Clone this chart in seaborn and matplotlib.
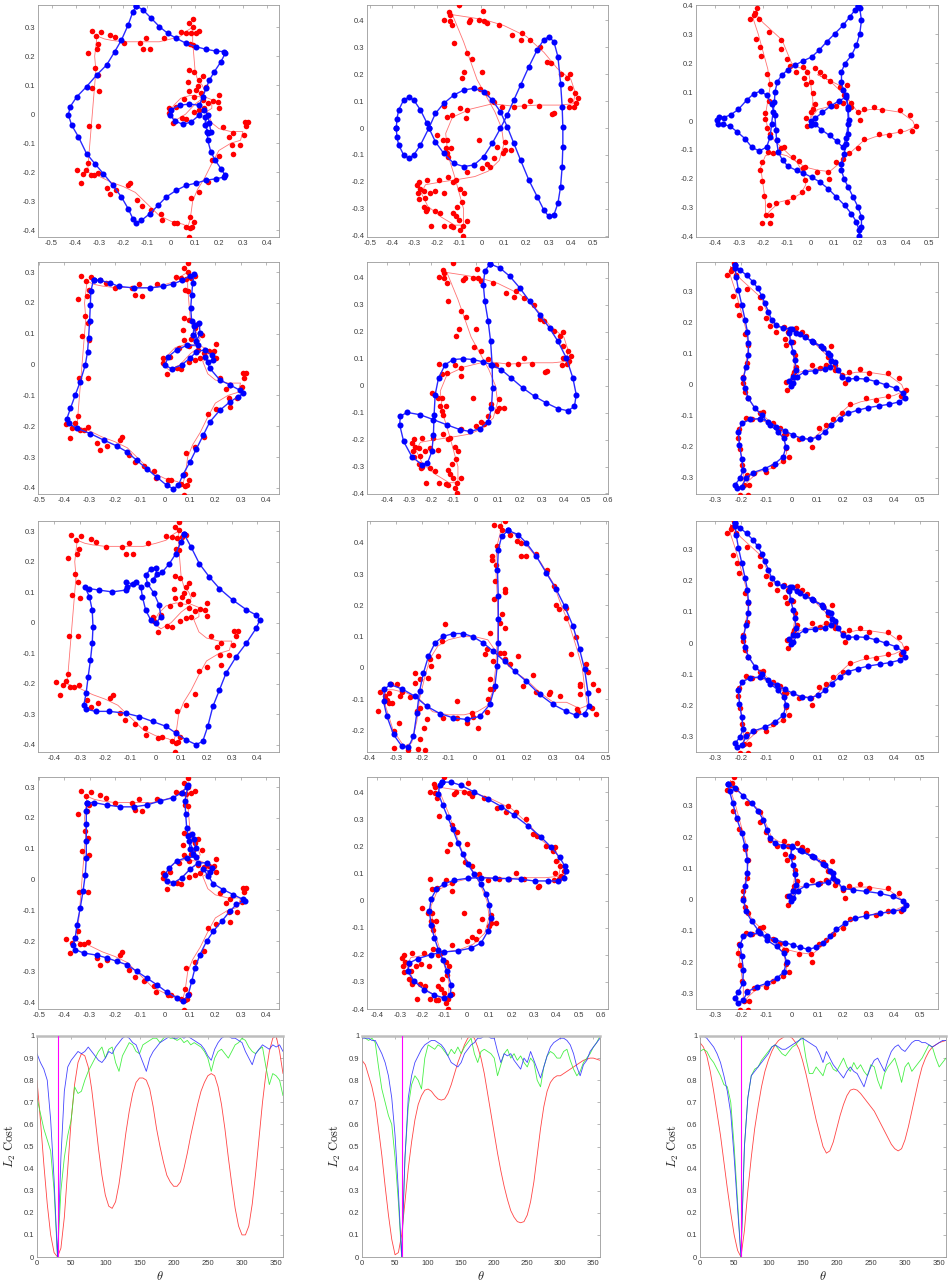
import numpy as np
import matplotlib
matplotlib.use('Agg')
import matplotlib.pyplot as plt
import seaborn as sns
from matplotlib.ticker import FuncFormatter, MultipleLocator

sns.set_theme(style='white')
plt.rcParams['font.family'] = ['Liberation Sans', 'DejaVu Sans']
plt.rcParams['mathtext.fontset'] = 'cm'

# ---------------- column 1 data ----------------
RED1 = [(-0.333,0.287),(-0.295,0.285),(-0.315,0.270),(-0.257,0.275),(-0.236,0.265),(-0.198,0.247),(-0.304,0.241),(-0.312,0.224),(-0.347,0.213),(-0.319,0.158),(-0.308,0.134),(-0.330,0.092),(-0.301,0.081),(-0.343,-0.042),(-0.308,-0.042),(-0.347,-0.168),(-0.356,-0.191),(-0.393,-0.194),(-0.368,-0.205),(-0.377,-0.238),(-0.337,-0.211),(-0.322,-0.211),(-0.305,-0.203),(-0.270,-0.254),(-0.257,-0.277),(-0.229,-0.263),(-0.180,-0.246),(-0.171,-0.236),(-0.143,-0.295),(-0.121,-0.317),(-0.083,-0.330),(-0.044,-0.346),(-0.037,-0.367),(0.010,-0.376),(0.025,-0.375),(0.062,-0.388),(0.079,-0.393),(0.087,-0.390),(0.079,-0.356),(0.083,-0.288),(0.118,-0.269),(0.153,-0.234),(0.074,-0.424),(0.097,-0.373),(0.171,-0.159),(0.201,-0.145),(0.257,-0.138),(0.254,-0.107),(0.287,-0.107),(0.305,-0.073),(0.315,-0.042),(0.323,-0.027),(0.308,-0.027),(0.257,-0.065),(0.243,-0.078),(0.218,-0.044),(0.201,0.023),(0.194,0.043),(0.201,0.066),(0.173,0.045),(0.153,0.039),(0.132,0.048),(0.125,0.072),(0.104,0.083),(0.097,0.060),(0.076,0.081),(0.055,0.054),(0.021,0.025),(-0.010,0.020),(-0.007,0.005),(0.007,-0.030),(0.046,-0.012),(0.062,-0.015),(0.097,0.007),(0.118,0.014),(0.139,0.020),(0.072,0.112),(0.076,0.152),(0.097,0.146),(0.118,0.118),(0.132,0.131),(0.146,0.095),(0.111,0.097),(0.090,0.239),(0.080,0.241),(0.083,0.279),(0.090,0.302),(0.076,0.314),(0.090,0.329),(0.104,0.281),(0.118,0.287),(0.042,0.285),(0.062,0.281),(-0.104,0.262),(-0.118,0.225),(-0.090,0.224),(-0.132,0.247),(-0.031,0.262)]

RPATH1 = [(-0.31,0.27),(-0.28,0.26),(-0.25,0.255),(-0.2,0.25),(-0.15,0.25),(-0.1,0.25),(-0.05,0.25),(0.0,0.26),(0.04,0.27),(0.07,0.29),(0.09,0.3),(0.09,0.25),(0.095,0.2),(0.1,0.15),(0.11,0.12),(0.13,0.1),(0.14,0.08),(0.12,0.06),(0.08,0.065),(0.04,0.055),(0.01,0.03),(-0.01,0.0),(0.02,-0.02),(0.06,0.0),(0.1,0.035),(0.14,0.06),(0.17,0.05),(0.17,0.02),(0.15,0.01),(0.17,-0.03),(0.2,-0.05),(0.25,-0.06),(0.3,-0.06),(0.29,-0.09),(0.25,-0.1),(0.2,-0.125),(0.17,-0.17),(0.14,-0.22),(0.11,-0.26),(0.09,-0.3),(0.08,-0.36),(0.07,-0.39),(0.05,-0.38),(0.0,-0.37),(-0.05,-0.35),(-0.1,-0.31),(-0.15,-0.27),(-0.2,-0.25),(-0.25,-0.235),(-0.3,-0.215),(-0.35,-0.2),(-0.345,-0.15),(-0.335,-0.05),(-0.325,0.05),(-0.315,0.15),(-0.32,0.2),(-0.31,0.27)]

BLUE1_R1 = [(-0.146,0.374),(-0.118,0.360),(-0.083,0.331),(-0.049,0.302),(-0.014,0.279),(0.021,0.262),(0.062,0.245),(0.104,0.233),(0.146,0.224),(0.187,0.218),(0.222,0.216),(0.226,0.210),(0.208,0.181),(0.180,0.146),(0.160,0.118),(0.146,0.089),(0.132,0.060),(0.118,0.031),(0.076,0.035),(0.035,0.031),(0.000,0.016),(-0.004,-0.003),(0.014,-0.023),(0.049,-0.035),(0.083,-0.027),(0.118,-0.003),(0.139,0.014),(0.153,-0.003),(0.160,-0.032),(0.166,-0.061),(0.153,-0.065),(0.143,-0.038),(0.143,-0.009),(0.150,-0.060),(0.153,-0.090),(0.166,-0.130),(0.184,-0.159),(0.208,-0.188),(0.226,-0.211),(0.222,-0.217),(0.187,-0.223),(0.146,-0.228),(0.104,-0.238),(0.062,-0.246),(0.021,-0.263),(-0.021,-0.286),(-0.055,-0.315),(-0.090,-0.344),(-0.125,-0.367),(-0.146,-0.375),(-0.160,-0.361),(-0.180,-0.326),(-0.208,-0.286),(-0.243,-0.246),(-0.284,-0.205),(-0.319,-0.171),(-0.354,-0.136),(-0.388,-0.078),(-0.416,-0.038),(-0.430,-0.003),(-0.423,0.025),(-0.395,0.060),(-0.354,0.095),(-0.312,0.135),(-0.270,0.170),(-0.236,0.216),(-0.208,0.256),(-0.180,0.308),(-0.160,0.354)]

BLUE1_R2 = [(-0.284,0.276),(-0.258,0.273),(-0.218,0.265),(-0.185,0.254),(-0.125,0.249),(-0.059,0.249),(-0.007,0.254),(0.033,0.262),(0.066,0.273),(0.099,0.287),(0.115,0.294),(0.110,0.265),(0.106,0.227),(0.102,0.183),(0.106,0.140),(0.119,0.129),(0.136,0.135),(0.139,0.102),(0.125,0.075),(0.112,0.097),(0.115,0.125),(0.132,0.064),(0.086,0.062),(0.046,0.048),(0.013,0.026),(0.000,-0.001),(0.026,-0.014),(0.066,-0.001),(0.099,0.021),(0.125,0.042),(0.159,0.048),(0.185,0.031),(0.192,0.015),(0.172,0.010),(0.159,0.026),(0.178,-0.012),(0.218,-0.050),(0.258,-0.066),(0.297,-0.083),(0.310,-0.093),(0.291,-0.104),(0.258,-0.121),(0.218,-0.148),(0.178,-0.186),(0.152,-0.229),(0.125,-0.273),(0.099,-0.316),(0.070,-0.359),(0.053,-0.392),(0.033,-0.403),(0.007,-0.392),(-0.033,-0.365),(-0.073,-0.338),(-0.112,-0.311),(-0.152,-0.283),(-0.192,-0.264),(-0.244,-0.245),(-0.297,-0.224),(-0.350,-0.207),(-0.383,-0.191),(-0.390,-0.175),(-0.376,-0.142),(-0.357,-0.099),(-0.337,-0.055),(-0.317,-0.001),(-0.308,0.042),(-0.304,0.086),(-0.300,0.140),(-0.297,0.194),(-0.295,0.238)]

BLUE1_R3 = [(0.112,0.289),(0.139,0.248),(0.172,0.193),(0.211,0.150),(0.251,0.112),(0.304,0.074),(0.357,0.043),(0.396,0.025),(0.410,0.009),(0.396,-0.018),(0.357,-0.067),(0.317,-0.111),(0.277,-0.165),(0.251,-0.220),(0.225,-0.274),(0.205,-0.339),(0.185,-0.388),(0.159,-0.399),(0.119,-0.383),(0.079,-0.361),(0.040,-0.339),(-0.013,-0.323),(-0.066,-0.307),(-0.119,-0.296),(-0.185,-0.290),(-0.238,-0.290),(-0.275,-0.283),(-0.284,-0.268),(-0.275,-0.230),(-0.267,-0.176),(-0.258,-0.122),(-0.251,-0.067),(-0.248,-0.013),(-0.251,0.041),(-0.262,0.085),(-0.280,0.117),(-0.264,0.112),(-0.225,0.107),(-0.172,0.101),(-0.119,0.107),(-0.092,0.126),(-0.119,0.134),(-0.112,0.118),(-0.079,0.134),(-0.059,0.117),(-0.053,0.085),(-0.040,0.041),(-0.020,0.009),(0.000,-0.002),(0.020,0.020),(0.013,0.058),(-0.007,0.096),(-0.033,0.128),(-0.040,0.155),(-0.020,0.177),(0.000,0.180),(0.003,0.161),(-0.013,0.139),(0.026,0.166),(0.053,0.193),(0.079,0.226),(0.099,0.264)]

BLUE1_R4 = [(-0.310,0.250),(-0.284,0.250),(-0.231,0.242),(-0.178,0.236),(-0.125,0.236),(-0.073,0.242),(-0.020,0.255),(0.033,0.266),(0.066,0.282),(0.086,0.299),(0.092,0.307),(0.079,0.255),(0.082,0.212),(0.086,0.168),(0.092,0.141),(0.106,0.147),(0.116,0.130),(0.123,0.103),(0.112,0.084),(0.099,0.098),(0.096,0.125),(0.125,0.073),(0.086,0.071),(0.046,0.060),(0.017,0.038),(0.000,0.016),(0.007,-0.005),(0.033,-0.011),(0.066,0.005),(0.099,0.033),(0.132,0.054),(0.165,0.054),(0.185,0.038),(0.178,0.025),(0.152,0.033),(0.172,0.011),(0.192,-0.014),(0.231,-0.033),(0.271,-0.049),(0.310,-0.065),(0.317,-0.071),(0.284,-0.081),(0.258,-0.103),(0.225,-0.136),(0.192,-0.168),(0.165,-0.201),(0.139,-0.244),(0.119,-0.288),(0.106,-0.331),(0.092,-0.375),(0.073,-0.396),(0.046,-0.385),(0.007,-0.366),(-0.033,-0.342),(-0.073,-0.320),(-0.112,-0.299),(-0.152,-0.277),(-0.192,-0.266),(-0.231,-0.255),(-0.271,-0.246),(-0.324,-0.239),(-0.357,-0.228),(-0.366,-0.212),(-0.357,-0.190),(-0.350,-0.147),(-0.337,-0.092),(-0.326,-0.038),(-0.317,0.016),(-0.313,0.071),(-0.313,0.125),(-0.313,0.179),(-0.313,0.223)]

# ---------------- column 2 data ----------------
RED2 = [(-0.101,0.456),(-0.146,0.431),(-0.141,0.419),(-0.166,0.402),(-0.141,0.398),(-0.131,0.381),(-0.057,0.394),(-0.050,0.400),(-0.012,0.400),(0.006,0.433),(0.010,0.398),(0.025,0.388),(0.078,0.381),(0.137,0.344),(0.182,0.351),(0.175,0.328),(0.219,0.326),(0.264,0.301),(0.294,0.246),(0.312,0.240),(0.354,0.202),(0.396,0.200),(0.384,0.184),(0.397,0.147),(0.418,0.128),(0.433,0.110),(0.422,0.091),(0.396,0.104),(0.391,0.077),(0.413,0.079),(0.324,0.054),(0.316,0.052),(0.257,0.081),(0.219,0.101),(0.190,0.081),(0.145,0.079),(0.093,0.077),(0.055,0.098),(0.025,0.128),(-0.007,0.143),(-0.064,0.067),(-0.067,0.036),(-0.094,0.075),(-0.131,0.048),(-0.154,0.042),(-0.166,0.081),(-0.199,-0.026),(-0.172,-0.044),(-0.154,-0.044),(-0.160,-0.075),(-0.136,-0.075),(-0.154,-0.094),(-0.149,-0.107),(-0.064,-0.162),(0.003,-0.149),(0.025,-0.135),(0.040,-0.143),(0.055,-0.112),(0.097,-0.094),(0.107,-0.081),(0.107,-0.051),(0.130,-0.081),(-0.087,0.184),(-0.076,0.209),(-0.042,0.254),(-0.064,0.279),(0.003,0.209),(-0.124,0.314),(-0.012,-0.044),(0.070,-0.069),(-0.281,-0.199),(-0.288,-0.211),(-0.276,-0.227),(-0.258,-0.232),(-0.284,-0.242),(-0.281,-0.264),(-0.243,-0.193),(-0.228,-0.242),(-0.251,-0.260),(-0.258,-0.291),(-0.243,-0.300),(-0.247,-0.306),(-0.206,-0.233),(-0.191,-0.193),(-0.169,-0.240),(-0.207,-0.306),(-0.185,-0.316),(-0.224,-0.363),(-0.166,-0.363),(-0.127,-0.368),(-0.136,-0.365),(-0.116,-0.326),(-0.127,-0.314),(-0.109,-0.291),(-0.087,-0.273),(-0.079,-0.242),(-0.094,-0.227),(-0.116,-0.193),(-0.127,-0.199),(-0.149,-0.180),(-0.101,-0.341),(-0.082,-0.363),(-0.082,-0.400),(-0.064,-0.343),(-0.094,-0.378)]

RPATH2 = [(-0.13,0.42),(-0.05,0.41),(0.02,0.40),(0.1,0.38),(0.2,0.34),(0.28,0.28),(0.34,0.22),(0.4,0.18),(0.42,0.13),(0.41,0.09),(0.35,0.085),(0.25,0.085),(0.15,0.08),(0.05,0.09),(-0.05,0.07),(-0.13,0.04),(-0.16,-0.02),(-0.15,-0.1),(-0.12,-0.18),(-0.1,-0.24),(-0.08,-0.3),(-0.08,-0.36),(-0.12,-0.36),(-0.18,-0.33),(-0.24,-0.29),(-0.27,-0.24),(-0.25,-0.21),(-0.18,-0.2),(-0.1,-0.19),(-0.03,-0.18),(0.03,-0.16),(0.08,-0.12),(0.1,-0.06),(0.09,0.0),(0.06,0.06),(0.02,0.12),(-0.02,0.18),(-0.05,0.25),(-0.08,0.32),(-0.11,0.38),(-0.13,0.42)]

RED2B = [(0.073,0.458),(0.096,0.455),(0.115,0.469),(0.103,0.440),(0.084,0.391),(0.068,0.359),(0.068,0.346),(0.081,0.330),(0.077,0.277),(0.115,0.253),(0.115,0.242),(0.073,0.219),(0.103,0.171),(0.096,0.144),(0.115,0.128),(0.058,0.112),(0.046,0.059),(0.096,0.048),(0.112,0.048),(0.071,0.021),(0.166,0.037),(0.115,0.027),(0.134,0.011),(0.223,-0.023),(0.234,-0.078),(0.185,-0.059),(0.286,-0.078),(0.283,-0.085),(0.324,-0.091),(0.391,-0.131),(0.394,-0.142),(0.403,-0.057),(0.425,0.011),(0.432,-0.014),(0.400,-0.053),(0.403,-0.085),(0.451,-0.053),(0.470,-0.071),(0.448,-0.128),(0.461,-0.149),(0.368,0.043),(0.385,0.099),(0.347,0.160),(0.349,0.192),(0.322,0.188),(0.309,0.202),(0.301,0.261),(0.276,0.312),(0.233,0.365),(0.175,0.359),(0.197,0.359),(0.175,0.400),(0.134,0.426),(0.160,0.405),(-0.113,0.141),(-0.125,0.085),(-0.138,0.039),(-0.170,0.027),(-0.208,-0.035),(-0.227,-0.016),(-0.166,0.007),(-0.176,-0.032),(0.039,0.043),(0.058,-0.069),(0.071,-0.069),(0.052,-0.101),(0.058,-0.037),(-0.066,-0.107),(-0.119,-0.160),(-0.068,-0.160),(-0.030,-0.176),(-0.011,-0.144),(-0.008,-0.157),(0.014,-0.192),(0.046,-0.142),(-0.370,-0.139),(-0.361,-0.078),(-0.341,-0.091),(-0.335,-0.103),(-0.328,-0.080),(-0.315,-0.112),(-0.319,-0.053),(-0.296,-0.053),(-0.277,-0.078),(-0.290,-0.176),(-0.309,-0.203),(-0.306,-0.256),(-0.252,-0.262),(-0.214,-0.261),(-0.189,-0.263),(-0.208,-0.229),(-0.182,-0.165),(-0.192,-0.192),(-0.220,-0.139),(-0.210,-0.128),(-0.227,-0.048),(-0.248,-0.093),(-0.284,-0.091),(-0.327,-0.112)]

RPATH2B = [(0.1,0.44),(0.15,0.43),(0.2,0.39),(0.25,0.34),(0.3,0.27),(0.33,0.2),(0.36,0.14),(0.39,0.06),(0.41,0.0),(0.42,-0.07),(0.43,-0.12),(0.4,-0.13),(0.35,-0.11),(0.3,-0.11),(0.25,-0.08),(0.2,-0.04),(0.15,-0.01),(0.1,0.03),(0.05,0.09),(0.0,0.1),(-0.05,0.1),(-0.1,0.09),(-0.14,0.07),(-0.17,0.03),(-0.19,-0.03),(-0.21,-0.1),(-0.22,-0.17),(-0.24,-0.24),(-0.27,-0.25),(-0.31,-0.2),(-0.34,-0.12),(-0.34,-0.07),(-0.31,-0.07),(-0.26,-0.08),(-0.21,-0.1),(-0.16,-0.14),(-0.1,-0.15),(-0.04,-0.15),(0.01,-0.14),(0.05,-0.12),(0.07,-0.07),(0.08,0.0),(0.085,0.07),(0.09,0.15),(0.085,0.25),(0.08,0.33),(0.085,0.39),(0.1,0.44)]

BLUE2_R1 = [(-0.381,-0.001),(-0.378,0.035),(-0.370,0.067),(-0.348,0.104),(-0.325,0.114),(-0.303,0.104),(-0.273,0.067),(-0.243,0.017),(-0.235,0.0),(-0.206,0.054),(-0.169,0.091),(-0.124,0.122),(-0.079,0.141),(-0.034,0.147),(0.010,0.135),(0.048,0.104),(0.085,0.060),(0.115,0.005),(0.145,-0.057),(0.175,-0.119),(0.212,-0.193),(0.249,-0.254),(0.279,-0.304),(0.301,-0.328),(0.324,-0.322),(0.342,-0.279),(0.354,-0.217),(0.361,-0.143),(0.364,-0.069),(0.364,0.005),(0.361,0.079),(0.354,0.165),(0.342,0.264),(0.324,0.320),(0.301,0.338),(0.279,0.328),(0.249,0.289),(0.212,0.227),(0.175,0.159),(0.145,0.104),(0.115,0.048),(0.085,-0.001),(0.048,-0.057),(0.010,-0.106),(-0.034,-0.137),(-0.079,-0.143),(-0.124,-0.131),(-0.169,-0.094),(-0.206,-0.051),(-0.235,0.0),(-0.273,-0.063),(-0.303,-0.100),(-0.325,-0.112),(-0.348,-0.100),(-0.370,-0.063),(-0.378,-0.035)]

BLUE2_R2 = [(0.065,0.452),(0.110,0.437),(0.155,0.406),(0.200,0.363),(0.245,0.313),(0.290,0.264),(0.335,0.214),(0.373,0.165),(0.411,0.103),(0.441,0.028),(0.456,-0.033),(0.448,-0.077),(0.418,-0.093),(0.373,-0.085),(0.320,-0.064),(0.268,-0.040),(0.215,-0.009),(0.162,0.028),(0.117,0.059),(0.072,0.078),(0.035,0.088),(-0.011,0.097),(-0.056,0.100),(-0.101,0.097),(-0.138,0.078),(-0.168,0.028),(-0.183,-0.033),(-0.188,-0.108),(-0.191,-0.182),(-0.198,-0.244),(-0.218,-0.287),(-0.244,-0.293),(-0.289,-0.263),(-0.326,-0.207),(-0.344,-0.145),(-0.341,-0.114),(-0.311,-0.099),(-0.251,-0.108),(-0.191,-0.126),(-0.131,-0.145),(-0.071,-0.163),(-0.026,-0.170),(0.020,-0.160),(0.057,-0.133),(0.072,-0.083),(0.077,-0.009),(0.075,0.078),(0.068,0.165),(0.057,0.239),(0.042,0.313),(0.035,0.375),(0.042,0.425)]

BLUE2_R3 = [(0.128,0.440),(0.166,0.426),(0.197,0.400),(0.235,0.357),(0.273,0.304),(0.311,0.251),(0.343,0.197),(0.375,0.133),(0.400,0.059),(0.419,-0.005),(0.432,-0.080),(0.435,-0.123),(0.419,-0.146),(0.387,-0.152),(0.349,-0.139),(0.299,-0.117),(0.248,-0.085),(0.197,-0.043),(0.153,-0.011),(0.115,0.021),(0.071,0.053),(0.033,0.080),(-0.005,0.099),(-0.043,0.110),(-0.081,0.110),(-0.119,0.101),(-0.151,0.080),(-0.176,0.037),(-0.195,-0.016),(-0.210,-0.075),(-0.220,-0.144),(-0.233,-0.219),(-0.252,-0.253),(-0.277,-0.251),(-0.309,-0.213),(-0.334,-0.155),(-0.347,-0.107),(-0.344,-0.069),(-0.322,-0.053),(-0.277,-0.067),(-0.227,-0.091),(-0.182,-0.123),(-0.132,-0.146),(-0.081,-0.160),(-0.030,-0.165),(0.020,-0.155),(0.058,-0.117),(0.077,-0.059),(0.086,0.005),(0.090,0.080),(0.090,0.155),(0.090,0.229),(0.087,0.314),(0.090,0.378),(0.103,0.421)]

BLUE2_R4 = [(-0.112,0.438),(-0.070,0.438),(-0.025,0.426),(0.034,0.401),(0.094,0.376),(0.154,0.348),(0.213,0.315),(0.273,0.277),(0.333,0.234),(0.378,0.197),(0.415,0.160),(0.437,0.129),(0.445,0.110),(0.434,0.085),(0.407,0.073),(0.363,0.073),(0.303,0.073),(0.243,0.079),(0.184,0.082),(0.124,0.083),(0.064,0.085),(0.004,0.083),(-0.055,0.076),(-0.100,0.063),(-0.137,0.042),(-0.160,0.005),(-0.167,-0.038),(-0.160,-0.088),(-0.145,-0.137),(-0.127,-0.181),(-0.107,-0.218),(-0.088,-0.261),(-0.070,-0.311),(-0.073,-0.348),(-0.100,-0.360),(-0.145,-0.348),(-0.190,-0.329),(-0.234,-0.298),(-0.264,-0.261),(-0.257,-0.230),(-0.219,-0.214),(-0.160,-0.199),(-0.100,-0.189),(-0.040,-0.185),(0.019,-0.175),(0.064,-0.156),(0.094,-0.113),(0.106,-0.063),(0.101,-0.014),(0.087,0.024),(0.064,0.061),(0.034,0.098),(0.004,0.135),(-0.018,0.172),(-0.040,0.215),(-0.063,0.265),(-0.085,0.308),(-0.107,0.352),(-0.127,0.395),(-0.122,0.426)]

# ---------------- column 3 data ----------------
RED3 = [(-0.255,0.352),(-0.235,0.373),(-0.226,0.391),(-0.237,0.365),(-0.218,0.354),(-0.174,0.309),(-0.231,0.284),(-0.213,0.257),(-0.207,0.225),(-0.183,0.162),(-0.170,0.128),(-0.174,0.069),(-0.192,0.026),(-0.190,0.006),(-0.183,-0.023),(-0.170,-0.044),(-0.125,0.281),(-0.125,0.248),(-0.101,0.216),(-0.086,0.190),(-0.060,0.171),(-0.031,0.187),(-0.014,0.171),(-0.027,0.147),(0.003,0.136),(-0.021,0.128),(0.012,0.096),(0.018,0.058),(0.009,0.042),(0.003,0.031),(-0.021,0.010),(-0.017,-0.017),(0.077,0.063),(0.109,0.053),(0.135,0.063),(0.155,0.123),(0.142,0.090),(0.168,0.063),(0.122,0.119),(0.083,0.137),(0.057,0.157),(0.038,0.169),(0.018,0.182),(0.168,0.047),(0.198,0.031),(0.207,0.004),(0.224,0.042),(0.265,0.049),(0.302,0.037),(0.376,0.037),(0.419,0.020),(0.445,-0.017),(0.427,-0.035),(0.376,-0.035),(0.330,-0.049),(0.289,-0.044),(0.226,-0.063),(0.198,-0.092),(0.161,-0.109),(0.135,-0.130),(0.107,-0.141),(0.073,-0.175),(0.077,-0.200),(0.029,-0.175),(-0.023,-0.160),(-0.047,-0.139),(-0.073,-0.125),(-0.112,-0.089),(-0.125,-0.092),(-0.157,-0.111),(-0.179,-0.106),(-0.205,-0.143),(-0.212,-0.171),(-0.203,-0.208),(-0.196,-0.259),(-0.174,-0.291),(-0.187,-0.324),(-0.203,-0.354),(-0.170,-0.354),(-0.166,-0.324),(-0.147,-0.283),(-0.101,-0.281),(-0.073,-0.261),(-0.034,-0.246),(-0.010,-0.232),(-0.023,-0.205),(-0.031,-0.162)]

RPATH3 = [(-0.24,0.38),(-0.2,0.34),(-0.16,0.31),(-0.12,0.28),(-0.1,0.24),(-0.08,0.2),(-0.05,0.185),(-0.01,0.175),(0.0,0.13),(0.01,0.07),(0.0,0.01),(0.03,0.04),(0.08,0.05),(0.13,0.06),(0.16,0.07),(0.13,0.1),(0.08,0.14),(0.03,0.16),(0.08,0.14),(0.13,0.12),(0.15,0.09),(0.17,0.06),(0.2,0.03),(0.25,0.04),(0.3,0.04),(0.38,0.03),(0.43,0.0),(0.44,-0.02),(0.4,-0.035),(0.33,-0.045),(0.27,-0.055),(0.22,-0.07),(0.18,-0.1),(0.13,-0.14),(0.08,-0.175),(0.03,-0.17),(-0.02,-0.16),(-0.06,-0.14),(-0.1,-0.12),(-0.15,-0.11),(-0.19,-0.12),(-0.21,-0.16),(-0.2,-0.22),(-0.19,-0.28),(-0.19,-0.33),(-0.17,-0.31),(-0.13,-0.28),(-0.08,-0.27),(-0.04,-0.25),(-0.02,-0.22),(-0.03,-0.18),(-0.06,-0.14),(-0.11,-0.1),(-0.15,-0.07),(-0.18,-0.03),(-0.19,0.02),(-0.18,0.07),(-0.17,0.12),(-0.18,0.18),(-0.2,0.24),(-0.22,0.3),(-0.24,0.35),(-0.24,0.38)]

BLUE3_R1 = [(0.200,0.397),(0.186,0.383),(0.165,0.360),(0.137,0.331),(0.102,0.302),(0.067,0.273),(0.036,0.245),(0.004,0.221),(-0.031,0.208),(-0.066,0.193),(-0.094,0.178),(-0.122,0.158),(-0.140,0.135),(-0.150,0.100),(-0.152,0.065),(-0.158,0.030),(-0.164,-0.010),(-0.170,-0.055),(-0.185,-0.090),(-0.216,-0.104),(-0.248,-0.090),(-0.276,-0.061),(-0.308,-0.038),(-0.339,-0.018),(-0.367,-0.012),(-0.388,-0.012),(-0.395,0.002),(-0.385,0.014),(-0.365,0.012),(-0.335,0.022),(-0.304,0.040),(-0.269,0.072),(-0.238,0.095),(-0.210,0.103),(-0.185,0.089),(-0.164,0.060),(-0.150,0.020),(-0.146,-0.030),(-0.143,-0.067),(-0.136,-0.107),(-0.118,-0.136),(-0.094,-0.157),(-0.059,-0.171),(-0.031,-0.180),(0.004,-0.194),(0.039,-0.211),(0.074,-0.234),(0.109,-0.263),(0.144,-0.292),(0.172,-0.321),(0.193,-0.349),(0.204,-0.378),(0.204,-0.396),(0.214,-0.367),(0.214,-0.332),(0.200,-0.298),(0.179,-0.263),(0.158,-0.228),(0.141,-0.200),(0.130,-0.171),(0.130,-0.148),(0.141,-0.113),(0.151,-0.078),(0.158,-0.044),(0.161,0.002),(0.158,0.048),(0.151,0.083),(0.120,0.070),(0.085,0.052),(0.050,0.030),(0.020,0.010),(0.000,0.000),(0.003,-0.015),(0.020,-0.012),(0.045,-0.030),(0.080,-0.050),(0.110,-0.070),(0.135,-0.090),(0.150,-0.060),(0.158,-0.010),(0.158,0.040),(0.150,0.090),(0.137,0.106),(0.130,0.135),(0.130,0.170),(0.144,0.198),(0.172,0.227),(0.193,0.262),(0.207,0.302),(0.214,0.348),(0.207,0.389)]

BLUE3_R2 = [(-0.222,0.384),(-0.203,0.370),(-0.177,0.352),(-0.153,0.332),(-0.134,0.311),(-0.118,0.287),(-0.105,0.262),(-0.092,0.235),(-0.079,0.209),(-0.060,0.192),(-0.034,0.182),(-0.008,0.180),(0.018,0.166),(0.051,0.152),(0.083,0.137),(0.116,0.123),(0.142,0.101),(0.155,0.076),(0.151,0.058),(0.129,0.049),(0.090,0.045),(0.051,0.042),(0.021,0.026),(0.005,0.004),(-0.005,-0.003),(-0.010,0.012),(0.003,0.026),(0.016,0.047),(0.012,0.080),(0.005,0.106),(-0.005,0.137),(-0.010,0.166),(-0.001,0.180),(0.031,0.162),(0.077,0.141),(0.122,0.117),(0.151,0.095),(0.168,0.072),(0.181,0.047),(0.198,0.026),(0.220,0.018),(0.252,0.020),(0.291,0.018),(0.330,0.010),(0.369,-0.001),(0.408,-0.012),(0.434,-0.028),(0.441,-0.044),(0.421,-0.055),(0.382,-0.063),(0.343,-0.068),(0.298,-0.074),(0.259,-0.082),(0.220,-0.092),(0.187,-0.109),(0.155,-0.130),(0.129,-0.152),(0.103,-0.168),(0.070,-0.176),(0.038,-0.173),(0.005,-0.162),(-0.027,-0.149),(-0.060,-0.135),(-0.092,-0.119),(-0.125,-0.109),(-0.164,-0.112),(-0.196,-0.125),(-0.209,-0.152),(-0.205,-0.195),(-0.196,-0.238),(-0.190,-0.275),(-0.203,-0.302),(-0.222,-0.322),(-0.213,-0.334),(-0.196,-0.329),(-0.179,-0.300),(-0.151,-0.283),(-0.105,-0.270),(-0.066,-0.254),(-0.034,-0.232),(-0.023,-0.200),(-0.031,-0.173),(-0.053,-0.152),(-0.086,-0.130),(-0.118,-0.098),(-0.144,-0.076),(-0.170,-0.044),(-0.183,-0.012),(-0.190,0.020),(-0.179,0.058),(-0.170,0.096),(-0.170,0.133),(-0.174,0.171),(-0.183,0.209),(-0.196,0.257),(-0.209,0.305),(-0.218,0.348),(-0.222,0.376)]

BLUE3_R4 = [(-0.248,0.370),(-0.222,0.356),(-0.190,0.332),(-0.157,0.308),(-0.131,0.282),(-0.112,0.255),(-0.099,0.223),(-0.086,0.196),(-0.066,0.180),(-0.034,0.172),(-0.001,0.170),(0.031,0.158),(0.077,0.138),(0.122,0.115),(0.150,0.092),(0.160,0.068),(0.140,0.055),(0.100,0.050),(0.055,0.045),(0.022,0.028),(0.006,0.006),(-0.004,-0.004),(-0.010,0.012),(0.004,0.028),(0.016,0.048),(0.012,0.082),(0.004,0.110),(-0.005,0.140),(0.001,0.168),(0.040,0.155),(0.085,0.135),(0.130,0.110),(0.160,0.085),(0.178,0.058),(0.198,0.036),(0.239,0.031),(0.291,0.026),(0.343,0.020),(0.395,0.010),(0.434,-0.003),(0.447,-0.017),(0.434,-0.031),(0.395,-0.038),(0.343,-0.044),(0.291,-0.052),(0.246,-0.060),(0.207,-0.076),(0.174,-0.095),(0.148,-0.118),(0.122,-0.140),(0.094,-0.153),(0.064,-0.159),(0.031,-0.153),(0.003,-0.145),(-0.027,-0.138),(-0.066,-0.129),(-0.099,-0.118),(-0.125,-0.108),(-0.164,-0.110),(-0.190,-0.118),(-0.203,-0.145),(-0.196,-0.182),(-0.190,-0.225),(-0.192,-0.268),(-0.209,-0.295),(-0.222,-0.316),(-0.209,-0.332),(-0.190,-0.321),(-0.174,-0.295),(-0.138,-0.279),(-0.099,-0.268),(-0.060,-0.252),(-0.031,-0.231),(-0.021,-0.199),(-0.031,-0.172),(-0.060,-0.150),(-0.099,-0.129),(-0.131,-0.099),(-0.157,-0.070),(-0.179,-0.038),(-0.190,-0.001),(-0.183,0.042),(-0.174,0.084),(-0.174,0.127),(-0.183,0.170),(-0.196,0.212),(-0.216,0.260),(-0.231,0.308),(-0.244,0.346)]

# ---------------- cost curves (theta = 0..360 step 5) ----------------
THETA = list(range(0, 361, 5))
TRUE_THETA = [30, 60, 60]

COST_RED1 = [0.80,0.62,0.42,0.24,0.10,0.02,0.00,0.04,0.18,0.40,0.62,0.78,0.88,0.92,0.91,0.86,0.76,0.63,0.49,0.37,0.28,0.23,0.22,0.25,0.33,0.44,0.56,0.66,0.74,0.79,0.81,0.81,0.80,0.76,0.68,0.58,0.50,0.43,0.37,0.34,0.32,0.32,0.34,0.40,0.47,0.55,0.62,0.69,0.75,0.79,0.82,0.83,0.82,0.77,0.69,0.58,0.45,0.33,0.22,0.14,0.10,0.10,0.14,0.24,0.38,0.54,0.70,0.83,0.93,0.99,1.00,0.93,0.83]
COST_BLUE1 = [0.92,0.88,0.85,0.80,0.62,0.35,0.00,0.45,0.75,0.86,0.89,0.91,0.93,0.92,0.93,0.95,0.93,0.91,0.89,0.88,0.90,0.93,0.92,0.95,0.97,0.99,1.00,0.99,0.97,0.96,0.92,0.88,0.84,0.90,0.93,0.95,0.97,0.98,0.99,1.00,0.99,0.99,1.00,0.99,1.00,0.99,0.98,0.97,0.96,0.94,0.91,0.89,0.94,0.97,0.99,1.00,1.00,0.99,0.99,0.98,0.97,0.93,0.90,0.87,0.92,0.94,0.96,0.95,0.94,0.96,0.95,0.96,0.93]
COST_GREEN1 = [0.72,0.65,0.58,0.53,0.48,0.30,0.00,0.30,0.45,0.55,0.62,0.77,0.74,0.75,0.80,0.84,0.87,0.90,0.93,0.95,0.90,0.94,0.95,0.88,0.84,0.91,0.94,0.97,0.96,0.93,0.92,0.96,0.97,0.98,0.99,0.99,0.97,0.99,1.00,0.99,0.99,0.98,0.99,0.97,0.98,0.96,0.97,0.96,0.95,0.93,0.90,0.84,0.90,0.93,0.94,0.92,0.90,0.93,0.96,0.97,0.99,0.98,0.95,0.93,0.92,0.94,0.95,0.86,0.78,0.83,0.82,0.80,0.73]

COST_RED2 = [0.89,0.87,0.82,0.77,0.70,0.58,0.46,0.32,0.19,0.08,0.01,0.02,0.10,0.25,0.40,0.52,0.62,0.69,0.73,0.755,0.76,0.75,0.73,0.715,0.71,0.715,0.74,0.78,0.83,0.88,0.92,0.96,0.99,1.00,0.99,0.95,0.90,0.83,0.74,0.65,0.56,0.47,0.39,0.32,0.26,0.21,0.18,0.16,0.155,0.16,0.19,0.25,0.34,0.46,0.58,0.68,0.75,0.79,0.81,0.82,0.82,0.83,0.84,0.85,0.86,0.87,0.88,0.89,0.895,0.90,0.90,0.895,0.89]
COST_BLUE2 = [0.99,0.99,0.99,0.98,0.98,0.95,0.92,0.88,0.82,0.72,0.55,0.30,0.00,0.45,0.72,0.82,0.88,0.91,0.94,0.96,0.97,0.98,0.98,0.97,0.96,0.94,0.91,0.88,0.87,0.86,0.88,0.92,0.94,0.96,0.97,0.99,0.99,1.00,1.00,0.99,0.99,0.93,0.88,0.92,0.91,0.92,0.89,0.87,0.85,0.90,0.88,0.93,0.89,0.85,0.81,0.86,0.91,0.95,0.97,0.98,0.99,0.99,0.98,0.96,0.92,0.86,0.82,0.87,0.89,0.93,0.95,0.97,0.99]
COST_GREEN2 = [1.00,0.99,0.98,0.99,0.97,0.86,0.76,0.70,0.64,0.60,0.45,0.25,0.00,0.45,0.68,0.78,0.82,0.80,0.76,0.90,0.96,0.95,0.94,0.96,0.95,0.93,0.91,0.94,0.92,0.95,0.92,0.95,0.97,0.99,0.92,0.88,0.93,0.94,0.93,0.92,0.90,0.82,0.87,0.92,0.94,0.90,0.92,0.89,0.91,0.88,0.86,0.90,0.88,0.80,0.77,0.86,0.91,0.93,0.92,0.90,0.90,0.93,0.94,0.89,0.85,0.82,0.84,0.88,0.90,0.92,0.95,0.97,1.00]

COST_RED3 = [0.97,0.95,0.91,0.84,0.75,0.65,0.55,0.43,0.31,0.20,0.10,0.03,0.00,0.12,0.30,0.45,0.58,0.68,0.77,0.84,0.89,0.93,0.96,0.98,0.99,1.00,1.00,0.99,0.97,0.94,0.89,0.83,0.76,0.69,0.62,0.56,0.50,0.47,0.48,0.52,0.58,0.64,0.69,0.73,0.755,0.76,0.755,0.74,0.72,0.70,0.68,0.66,0.63,0.60,0.57,0.54,0.51,0.49,0.48,0.49,0.53,0.59,0.66,0.73,0.80,0.86,0.90,0.93,0.95,0.96,0.97,0.975,0.98]
COST_BLUE3 = [1.00,1.00,0.99,0.97,0.95,0.92,0.88,0.82,0.75,0.65,0.45,0.22,0.00,0.50,0.72,0.82,0.84,0.86,0.88,0.90,0.92,0.95,0.96,0.95,0.94,0.94,0.95,0.96,0.97,0.98,0.99,0.98,0.97,0.96,0.95,0.92,0.88,0.93,0.90,0.87,0.85,0.83,0.81,0.84,0.86,0.84,0.83,0.80,0.77,0.82,0.86,0.89,0.90,0.87,0.84,0.89,0.93,0.95,0.96,0.94,0.93,0.95,0.97,0.98,0.98,0.97,0.97,0.96,0.95,0.96,0.97,0.98,0.98]
COST_GREEN3 = [0.93,0.94,0.93,0.90,0.88,0.85,0.82,0.78,0.77,0.70,0.50,0.25,0.00,0.50,0.72,0.82,0.85,0.86,0.89,0.91,0.93,0.95,0.96,0.94,0.92,0.91,0.93,0.95,0.96,0.98,1.00,0.90,0.83,0.83,0.86,0.84,0.82,0.87,0.88,0.85,0.84,0.87,0.90,0.86,0.84,0.88,0.85,0.87,0.84,0.82,0.87,0.86,0.80,0.76,0.83,0.86,0.88,0.90,0.85,0.79,0.86,0.88,0.84,0.86,0.88,0.90,0.93,0.96,0.95,0.90,0.86,0.88,0.90]

# ---------------- layout helpers ----------------
W, H = 948, 1284
fig = plt.figure(figsize=(W / 100, H / 100), dpi=100)

def add_ax(l, t, r, b):
    return fig.add_axes([l / W, 1 - b / H, (r - l) / W, (b - t) / H])

def fmt(v, pos):
    v = round(v, 2)
    if abs(v) < 1e-9:
        return '0'
    return '%g' % v

def style(ax):
    ax.set_facecolor('white')
    for s in ax.spines.values():
        s.set_visible(True)
        s.set_color('#9a9a9a')
        s.set_linewidth(0.6)
    ax.tick_params(direction='in', length=2.5, width=0.5, colors='#9a9a9a',
                   labelcolor='#3c3c3c', labelsize=5.5, top=True, right=True,
                   pad=2)
    ax.xaxis.set_major_formatter(FuncFormatter(fmt))
    ax.yaxis.set_major_formatter(FuncFormatter(fmt))
    ax.set_xlabel('')
    ax.set_ylabel('')

def shape_panel(rect, red_pts, red_path, blue_pts, xlim, ylim):
    ax = add_ax(*rect)
    rp = np.array(red_path)
    sns.lineplot(x=rp[:, 0], y=rp[:, 1], sort=False, estimator=None, ax=ax,
                 color='#ff5a5a', linewidth=0.6, alpha=0.85)
    r = np.array(red_pts)
    sns.scatterplot(x=r[:, 0], y=r[:, 1], ax=ax, color='#ff0000', s=16,
                    linewidth=0, legend=False, zorder=3)
    b = np.array(blue_pts + [blue_pts[0]])
    sns.lineplot(x=b[:, 0], y=b[:, 1], sort=False, estimator=None, ax=ax,
                 color='#2a2aff', linewidth=1.0, zorder=4)
    sns.scatterplot(x=b[:, 0], y=b[:, 1], ax=ax, color='#0000ff', s=19,
                    linewidth=0, legend=False, zorder=5)
    ax.set_xlim(*xlim)
    ax.set_ylim(*ylim)
    ax.xaxis.set_major_locator(MultipleLocator(0.1))
    ax.yaxis.set_major_locator(MultipleLocator(0.1))
    style(ax)
    return ax

COLS = [(38, 279), (367, 608), (696, 938)]
ROWS = [(5, 237), (262, 494), (521, 752), (777, 1009)]

panels = [
    # row 1
    (0, 0, RED1, RPATH1, BLUE1_R1, (-0.557, 0.451), (-0.424, 0.377)),
    (0, 1, RED2, RPATH2, BLUE2_R1, (-0.512, 0.566), (-0.404, 0.456)),
    (0, 2, RED3, RPATH3, BLUE3_R1, (-0.482, 0.536), (-0.401, 0.401)),
    # row 2
    (1, 0, RED1, RPATH1, BLUE1_R2, (-0.505, 0.453), (-0.420, 0.333)),
    (1, 1, RED2, RPATH2, BLUE2_R2, (-0.492, 0.600), (-0.402, 0.459)),
    (1, 2, RED3, RPATH3, BLUE3_R2, (-0.375, 0.572), (-0.352, 0.395)),
    # row 3
    (2, 0, RED1, RPATH1, BLUE1_R3, (-0.465, 0.486), (-0.423, 0.333)),
    (2, 1, RED2B, RPATH2B, BLUE2_R3, (-0.410, 0.508), (-0.269, 0.470)),
    (2, 2, RED3, RPATH3, BLUE3_R2, (-0.375, 0.571), (-0.350, 0.392)),
    # row 4
    (3, 0, RED1, RPATH1, BLUE1_R4, (-0.505, 0.453), (-0.421, 0.333)),
    (3, 1, RED2, RPATH2, BLUE2_R4, (-0.446, 0.631), (-0.400, 0.457)),
    (3, 2, RED3, RPATH3, BLUE3_R4, (-0.375, 0.571), (-0.350, 0.392)),
]

for (ri, ci, rpts, rpath, bpts, xl, yl) in panels:
    l, r = COLS[ci]
    t, b = ROWS[ri]
    shape_panel((l, t, r, b), rpts, rpath, bpts, xl, yl)

# ---------------- bottom row: L2 cost ----------------
BOTTOM_COLS = [(37, 283), (362, 600), (700, 946)]
cost_sets = [(COST_RED1, COST_GREEN1, COST_BLUE1),
             (COST_RED2, COST_GREEN2, COST_BLUE2),
             (COST_RED3, COST_GREEN3, COST_BLUE3)]
th = np.array(THETA)
for k, (l, r) in enumerate(BOTTOM_COLS):
    ax = add_ax(l, 1036, r, 1257)
    red, green, blue = cost_sets[k]
    sns.lineplot(x=th, y=np.array(red), ax=ax, color='#ff3030', linewidth=0.6, alpha=0.9)
    sns.lineplot(x=th, y=np.array(green), ax=ax, color='#33ee33', linewidth=0.6, alpha=0.9)
    sns.lineplot(x=th, y=np.array(blue), ax=ax, color='#3030ff', linewidth=0.6, alpha=0.9)
    ax.axvline(TRUE_THETA[k], color='#ff00ff', linewidth=0.8, zorder=10)
    ax.set_xlim(0, 360)
    ax.set_ylim(0, 1)
    ax.xaxis.set_major_locator(MultipleLocator(50))
    ax.yaxis.set_major_locator(MultipleLocator(0.1))
    style(ax)
    ax.spines['top'].set_linewidth(1.8)
    ax.spines['top'].set_color('#bdbdbd')
    ax.set_ylabel(r'$L_2\ \mathrm{Cost}$', fontsize=9, color='#222222', labelpad=4)
    ax.set_xlabel(r'$\theta$', fontsize=9, color='#222222', labelpad=2)

fig.savefig('out.png', dpi=100, facecolor='white')
